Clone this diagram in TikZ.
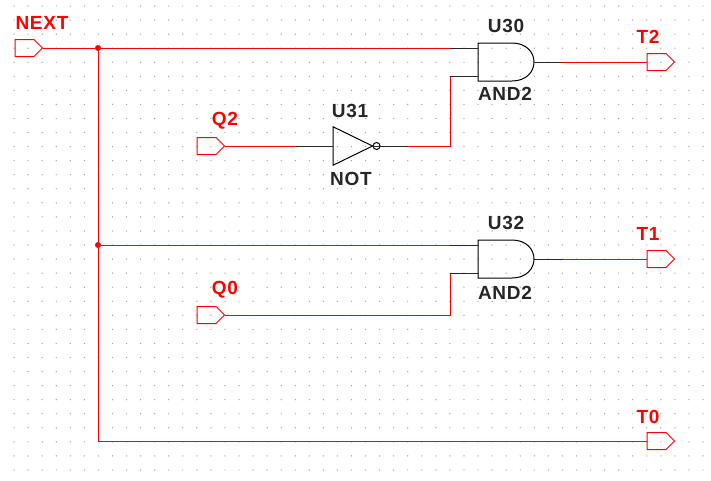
\documentclass[tikz,border=0pt]{standalone}
\usepackage{fontspec}
\setmainfont{Liberation Sans}
\newfontfamily\labelfont[LetterSpace=4]{Liberation Sans}
\usetikzlibrary{shapes.symbols,shapes.gates.logic.US}
\definecolor{netred}{RGB}{255,0,0}
\definecolor{griddot}{RGB}{160,160,160}
\definecolor{leadblack}{RGB}{40,40,40}
\tikzset{
  wire/.style={netred, line width=1pt},
  lead/.style={leadblack, line width=1pt},
  port/.style={signal, signal to=east, draw=netred, line width=1pt, fill=none,
    minimum width=27.5pt, minimum height=17pt, inner sep=0pt, outer sep=0pt, anchor=west},
  andgate/.style={rectangle, minimum width=56pt, minimum height=38pt, inner sep=0pt, outer sep=0pt, anchor=west},
  gatebody/.style={draw=black, line width=1pt},
  notgate/.style={not gate US, draw=black, line width=1pt, logic gate inverted radius=3.5pt,
    minimum width=38pt, minimum height=33pt, inner sep=0pt, outer sep=0pt, anchor=west},
  netlabel/.style={font=\labelfont\fontsize{19}{20}\selectfont\bfseries, text=netred, inner sep=0pt},
  partlabel/.style={font=\labelfont\fontsize{19}{20}\selectfont\bfseries, text=black!85, inner sep=0pt},
  junction/.style={circle, fill=netred, minimum size=6pt, inner sep=0pt}
}
\begin{document}
\begin{tikzpicture}[x=1pt, y=-1pt]
\useasboundingbox (0,0) rectangle (711,480);

% Grid
\foreach \i in {1,...,50}
  \foreach \j in {0,...,33}
    \fill[griddot] ({14.06*\i},{6+14.06*\j}) circle (0.7pt);

% Ports
\node[port] (next) at (15,48) {};
\node[port] (q2) at (197,146) {};
\node[port] (q0) at (197,315) {};
\node[port] (t2) at (647,62) {};
\node[port] (t1) at (647,259) {};
\node[port] (t0) at (647,441) {};

% Gates
\node[andgate] (u30) at (478,62) {};
\node[notgate] (u31) at (333,146) {};
\node[andgate] (u32) at (478,259) {};
\foreach \g in {u30,u32}
  \draw[gatebody] (\g.south west) -- (\g.north west) -- ([xshift=34pt]\g.north west)
    .. controls +(14,0) and +(0,-10) .. (\g.east)
    .. controls +(0,10) and +(14,0) .. ([xshift=34pt]\g.south west) -- cycle;

% Junctions
\node[junction] (ja) at (98,48) {};
\node[junction] (jb) at (98,245) {};

% Bends and lead ends
\coordinate (u30a) at (450,48);
\coordinate (u30b) at (450,76);
\coordinate (u30o) at (562,62);
\coordinate (u31a) at (296,146);
\coordinate (u31o) at (408,146);
\coordinate (u32a) at (450,245);
\coordinate (u32b) at (450,273);
\coordinate (u32o) at (562,259);
\coordinate (qbend) at (450,315);
\coordinate (tbend) at (98,441);

% Nets
\draw[wire] (next.east) -- (ja) -- (u30a);
\draw[wire] (ja) -- (jb) -- (tbend) -- (t0.west);
\draw[wire] (jb) -- (u32a);
\draw[wire] (q2.east) -- (u31a);
\draw[wire] (u31o) -| (u30b);
\draw[wire] (q0.east) -- (qbend) -- (u32b);
\draw[wire] (u30o) -- (t2.west);
\draw[wire] (u32o) -- (t1.west);

% Gate leads
\draw[lead] (u30a) -- (u30a -| u30.west);
\draw[lead] (u30b) -- (u30b -| u30.west);
\draw[lead] (u30.east) -- (u30o);
\draw[lead] (u31a) -- (u31.west);
\draw[lead] (u31.east) -- (u31o);
\draw[lead] (u32a) -- (u32a -| u32.west);
\draw[lead] (u32b) -- (u32b -| u32.west);
\draw[lead] (u32.east) -- (u32o);

% Labels
\node[netlabel] (lnext) at (42,23) {NEXT};
\node[netlabel] (lq2) at (225,121) {Q2};
\node[netlabel] (lq0) at (225,290) {Q0};
\node[netlabel] (lt2) at (648,36.5) {T2};
\node[netlabel] (lt1) at (648,233.5) {T1};
\node[netlabel] (lt0) at (648,416.5) {T0};
\node[partlabel] (lu30) at (506,26) {U30};
\node[partlabel] (land) at (505,94) {AND2};
\node[partlabel] (lu31) at (350,110.5) {U31};
\node[partlabel] (lnot) at (351,179) {NOT};
\node[partlabel] (lu32) at (506,223) {U32};
\node[partlabel] (landb) at (505,292.5) {AND2};
\end{tikzpicture}
\end{document}
